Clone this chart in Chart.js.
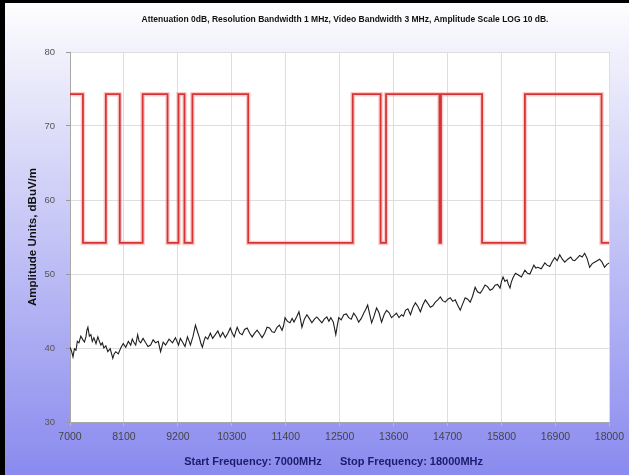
<!DOCTYPE html>
<html>
<head>
<meta charset="utf-8">
<title>Amplitude vs Frequency</title>
<script src="https://cdn.jsdelivr.net/npm/chart.js@4.4.1/dist/chart.umd.min.js"></script>
<style>
  html, body { margin: 0; padding: 0; background: #fff; }
  #wrap { width: 629px; height: 475px; position: relative; }
</style>
</head>
<body>
<div id="wrap"><canvas id="chart" width="629" height="475"></canvas></div>
<script>
"use strict";

// limit line (red), frequency in MHz
var limitFreq = [7000, 7264, 7264, 7731, 7731, 8015, 8015, 8482, 8482, 8989, 8989, 9213, 9213, 9335, 9335, 9497, 9497,
  10634, 10634, 12766, 12766, 13334, 13334, 13445, 13445, 14535, 14535, 14565, 14565, 15404, 15404, 16277, 16277,
  17840, 17840, 18000];
var limitAmp = [74.3, 74.3, 54.2, 54.2, 74.3, 74.3, 54.2, 54.2, 74.3, 74.3, 54.2, 54.2, 74.3, 74.3, 54.2, 54.2, 74.3,
  74.3, 54.2, 54.2, 74.3, 74.3, 54.2, 54.2, 74.3, 74.3, 54.2, 54.2, 74.3, 74.3, 54.2, 54.2, 74.3,
  74.3, 54.2, 54.2];

// measured trace (black)
var traceFreq = [
  7000, 7030, 7061, 7090, 7122, 7150, 7183, 7220, 7264, 7295,
  7325, 7345, 7365, 7395, 7426, 7455, 7487, 7530, 7568, 7600,
  7629, 7660, 7690, 7730, 7771, 7820, 7873, 7900, 7934, 7985,
  8035, 8085, 8137, 8190, 8238, 8270, 8299, 8340, 8380, 8410,
  8441, 8490, 8543, 8590, 8644, 8695, 8746, 8800, 8847, 8900,
  8949, 9020, 9091, 9150, 9213, 9250, 9294, 9345, 9395, 9425,
  9456, 9510, 9558, 9600, 9639, 9670, 9700, 9730, 9761, 9810,
  9862, 9910, 9964, 10015, 10065, 10115, 10167, 10220, 10268, 10310,
  10350, 10380, 10410, 10460, 10512, 10560, 10613, 10665, 10715, 10765,
  10816, 10870, 10918, 10970, 11019, 11070, 11121, 11170, 11222, 11270,
  11324, 11355, 11385, 11435, 11486, 11530, 11568, 11620, 11669, 11700,
  11730, 11780, 11831, 11880, 11933, 11985, 12034, 12085, 12136, 12185,
  12237, 12280, 12319, 12370, 12420, 12450, 12481, 12530, 12583, 12635,
  12684, 12735, 12786, 12840, 12887, 12940, 12989, 13030, 13070, 13110,
  13151, 13200, 13252, 13300, 13354, 13405, 13455, 13505, 13557, 13610,
  13658, 13710, 13760, 13800, 13841, 13890, 13943, 13995, 14044, 14095,
  14146, 14195, 14247, 14300, 14349, 14400, 14450, 14500, 14552, 14600,
  14653, 14705, 14755, 14805, 14856, 14905, 14958, 15010, 15059, 15110,
  15161, 15210, 15262, 15310, 15364, 15415, 15465, 15515, 15567, 15620,
  15668, 15720, 15770, 15800, 15831, 15870, 15912, 15940, 15973, 16000,
  16034, 16085, 16135, 16205, 16277, 16330, 16378, 16420, 16460, 16500,
  16541, 16610, 16683, 16730, 16784, 16835, 16886, 16935, 16987, 17040,
  17089, 17150, 17211, 17250, 17292, 17340, 17394, 17445, 17495, 17545,
  17597, 17650, 17698, 17750, 17800, 17850, 17901, 17950, 18000];
var traceAmp = [
  40.1, 39.6, 38.8, 39.9, 39.7, 40.9, 40.7, 41.6, 41.1, 40.8,
  41.5, 42.4, 42.8, 41.6, 41.8, 40.9, 41.4, 40.6, 41.5, 40.9,
  40.4, 40.7, 40.0, 40.3, 39.5, 39.9, 38.6, 39.2, 39.5, 39.2,
  40.0, 40.6, 40.1, 40.9, 40.4, 41.2, 40.8, 40.4, 41.8, 40.9,
  40.7, 41.3, 40.7, 40.2, 40.4, 41.1, 40.7, 40.9, 39.5, 40.8,
  40.4, 41.2, 40.7, 41.4, 40.4, 41.3, 40.8, 40.2, 41.5, 41.0,
  40.4, 41.6, 43.1, 42.2, 41.4, 40.6, 40.1, 40.9, 41.5, 41.2,
  42.0, 41.3, 41.8, 42.3, 41.5, 42.1, 41.4, 42.0, 42.7, 42.0,
  41.5, 42.2, 42.8, 42.0, 41.8, 42.5, 42.7, 42.0, 41.5, 42.0,
  42.4, 41.9, 41.4, 42.0, 42.8, 42.7, 42.2, 42.1, 42.8, 43.1,
  42.4, 43.0, 44.1, 43.6, 43.4, 44.0, 43.5, 44.2, 44.9, 43.9,
  42.8, 43.9, 44.5, 44.0, 43.4, 43.9, 44.2, 43.8, 43.4, 43.9,
  44.2, 43.6, 44.1, 43.5, 41.8, 43.0, 44.1, 43.8, 44.5, 44.6,
  44.1, 43.9, 44.7, 44.2, 43.5, 44.0, 44.7, 45.2, 45.8, 44.6,
  43.4, 44.3, 45.4, 44.8, 43.5, 44.5, 45.1, 44.8, 44.1, 44.4,
  44.7, 44.1, 44.5, 44.3, 45.1, 45.3, 44.5, 45.5, 46.1, 45.6,
  44.9, 45.8, 46.5, 46.0, 45.5, 45.7, 46.2, 46.5, 46.9, 46.4,
  46.2, 46.6, 46.8, 46.3, 46.5, 45.8, 45.1, 46.0, 46.8, 46.6,
  46.2, 47.0, 48.2, 47.6, 47.4, 47.9, 48.5, 48.3, 47.8, 48.0,
  48.5, 48.6, 48.1, 49.0, 49.6, 49.0, 49.2, 48.6, 48.1, 48.9,
  49.5, 50.1, 49.9, 49.6, 50.5, 50.1, 50.0, 50.6, 51.2, 50.8,
  50.9, 50.7, 51.5, 51.2, 51.0, 51.7, 52.2, 51.8, 52.6, 52.0,
  51.6, 52.0, 52.3, 51.9, 51.8, 52.1, 52.5, 52.3, 52.8, 52.1,
  50.9, 51.4, 51.6, 51.8, 52.0, 51.6, 50.9, 51.3, 51.5];

var xTickStep = 1100;
var yTicks = [30, 40, 50, 60, 70, 80];

var titleText = "Attenuation 0dB, Resolution Bandwidth 1 MHz, Video Bandwidth 3 MHz, Amplitude Scale LOG 10 dB.";
var xTitleText = "Start Frequency: 7000MHz      Stop Frequency: 18000MHz    ";
var yTitleText = "Amplitude Units, dBuV/m";

var font = "'Liberation Sans', Arial, sans-serif";

function points(xs, ys) {
  var out = [];
  for (var i = 0; i < xs.length; i++) out.push({ x: xs[i], y: ys[i] });
  return out;
}

// gradient backdrop, white plot area, dark frame edge and the header line
var backdrop = {
  id: "backdrop",
  beforeDraw: function (chart) {
    var ctx = chart.ctx, w = chart.width, h = chart.height, a = chart.chartArea;
    ctx.save();
    var g = ctx.createLinearGradient(0, 0, 0, h);
    g.addColorStop(0, "#ffffff");
    g.addColorStop(0.1, "#f2f2fc");
    g.addColorStop(1, "#8a8aef");
    ctx.fillStyle = g;
    ctx.fillRect(0, 0, w, h);
    ctx.fillStyle = "#ffffff";
    ctx.fillRect(a.left, a.top, a.right - a.left, a.bottom - a.top);
    ctx.fillStyle = "#000000";
    ctx.fillRect(0, 0, 5, h);
    ctx.fillRect(0, 0, w, 3);
    ctx.restore();
  },
  afterDraw: function (chart) {
    var ctx = chart.ctx;
    ctx.save();
    ctx.font = "bold 8.5px " + font;
    ctx.fillStyle = "#111";
    ctx.textAlign = "center";
    ctx.textBaseline = "middle";
    ctx.fillText(titleText, 345, 20);
    ctx.restore();
  }
};

new Chart(document.getElementById("chart"), {
  type: "line",
  data: {
    datasets: [
      {
        label: "Limit halo",
        data: points(limitFreq, limitAmp),
        borderColor: "rgba(238, 110, 110, 0.35)",
        borderWidth: 4.5,
        pointRadius: 0,
        tension: 0,
        order: 3
      },
      {
        label: "Limit",
        data: points(limitFreq, limitAmp),
        borderColor: "#d63434",
        borderWidth: 1.8,
        pointRadius: 0,
        tension: 0,
        order: 2
      },
      {
        label: "Trace",
        data: points(traceFreq, traceAmp),
        borderColor: "#1e1e1e",
        borderWidth: 1.1,
        pointRadius: 0,
        tension: 0,
        order: 1
      }
    ]
  },
  options: {
    responsive: false,
    animation: false,
    layout: { padding: { left: 6, top: 52, right: 17, bottom: 3 } },
    plugins: {
      legend: { display: false },
      tooltip: { enabled: false },
      title: { display: false }
    },
    scales: {
      x: {
        type: "linear",
        min: 7000,
        max: 18000,
        afterFit: function (scale) { scale.height = 50; },
        ticks: {
          stepSize: xTickStep,
          autoSkip: false,
          maxRotation: 0,
          padding: 5,
          color: "#444",
          font: { family: font, size: 10.5 },
          callback: function (v) { return String(v); }
        },
        grid: { color: "#dedede", tickLength: 4, tickColor: "#bbb" },
        border: { color: "#a8a8a8" },
        title: {
          display: true,
          text: xTitleText,
          color: "#1c1c6c",
          font: { family: font, size: 11, weight: "bold" },
          padding: { top: 0, bottom: 3 }
        }
      },
      y: {
        min: 30,
        max: 80,
        afterFit: function (scale) { scale.width = 64; },
        afterBuildTicks: function (scale) {
          scale.ticks = yTicks.map(function (v) { return { value: v }; });
        },
        ticks: {
          padding: 11,
          color: "#555",
          font: { family: font, size: 9.5 }
        },
        grid: { color: "#dedede", tickLength: 4, tickColor: "#999" },
        border: { color: "#a8a8a8" },
        title: {
          display: true,
          text: yTitleText,
          color: "#111",
          font: { family: font, size: 11.5, weight: "bold" },
          padding: { top: 20, bottom: 0 }
        }
      }
    }
  },
  plugins: [backdrop]
});
</script>
</body>
</html>
